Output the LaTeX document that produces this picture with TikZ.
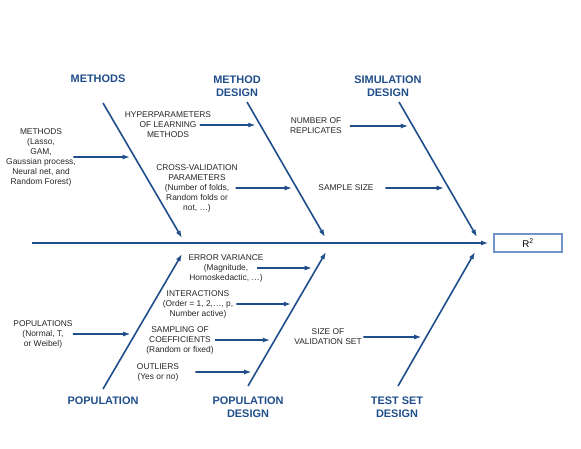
\documentclass[tikz,border=0pt]{standalone}
\usepackage{fontspec}
\setmainfont{Liberation Sans}
\usetikzlibrary{arrows.meta}
\definecolor{fishblue}{HTML}{1F4E8A}
\definecolor{boxblue}{HTML}{6F95CC}

\begin{document}
\begin{tikzpicture}[x=0.75pt,y=-0.75pt,
  head/.style={text=fishblue,font=\bfseries\fontsize{8.2}{10}\selectfont,align=center,inner sep=1pt},
  cause/.style={text=black!85,font=\fontsize{6.3}{7.5}\selectfont,align=center,inner sep=1pt},
  bone/.style={draw=fishblue,line width=1.2pt,-{Latex[length=5.5pt,width=3.8pt]}},
  arr/.style={bone,shorten >=3.5pt}]
  \useasboundingbox (0,0) rectangle (581,449);

  % headings of the six bones
  \node[head] (methods)    at (98,79)   {METHODS};
  \node[head] (mdesign)    at (237,86)  {METHOD\\DESIGN};
  \node[head] (sdesign)    at (388,86)  {SIMULATION\\DESIGN};
  \node[head] (population) at (103,401) {POPULATION};
  \node[head] (pdesign)    at (248,407) {POPULATION\\DESIGN};
  \node[head] (tdesign)    at (397,407) {TEST SET\\DESIGN};

  % bones and spine
  \coordinate (m-a)  at (103,103); \coordinate (m-b)  at (182,238);
  \coordinate (md-a) at (247,102); \coordinate (md-b) at (325,237);
  \coordinate (sd-a) at (399,102); \coordinate (sd-b) at (477,237);
  \coordinate (p-a)  at (103,389); \coordinate (p-b)  at (182,254);
  \coordinate (pd-a) at (248,386); \coordinate (pd-b) at (326,252);
  \coordinate (t-a)  at (398,386); \coordinate (t-b)  at (475,252);
  \foreach \s in {m,md,sd,p,pd,t}
    \draw[bone] (\s-a) -- (\s-b);

  \node[draw=boxblue,line width=1.4pt,minimum width=51pt,minimum height=13pt,
        inner sep=0pt,font=\fontsize{7.3}{9}\selectfont] (r2) at (528,243) {R\textsuperscript{2}};
  \coordinate (tail) at (32,243);
  \draw[arr,line width=1.5pt] (tail) -- (r2.west);

  % causes
  \node[cause] (meth)   at (41,157)  {METHODS\\(Lasso,\\GAM,\\Gaussian process,\\Neural net, and\\Random Forest)};
  \node[cause] (hyper)  at (168,125) {HYPERPARAMETERS\\OF LEARNING\\METHODS};
  \node[cause] (cv)     at (197,188) {CROSS-VALIDATION\\PARAMETERS\\(Number of folds,\\Random folds or\\not, \dots)};
  \node[cause] (nrep)   at (316,126) {NUMBER OF\\REPLICATES};
  \node[cause] (ssize)  at (346,188) {SAMPLE SIZE};
  \node[cause] (pops)   at (43,334)  {POPULATIONS\\(Normal, T,\\or Weibel)};
  \node[cause] (errvar) at (226,268) {ERROR VARIANCE\\(Magnitude,\\Homoskedactic, \dots)};
  \node[cause] (inter)  at (198,304) {INTERACTIONS\\(Order = 1, 2,\dots, p,\\Number active)};
  \node[cause] (coef)   at (180,340) {SAMPLING OF\\COEFFICIENTS\\(Random or fixed)};
  \node[cause] (outl)   at (158,372) {OUTLIERS\\(Yes or no)};
  \node[cause] (vsize)  at (328,337) {SIZE OF\\VALIDATION SET};

  \draw[arr] ([xshift=-3pt]meth.east)    -- (intersection of meth.west--meth.east and m-a--m-b);
  \draw[arr] ([xshift=-9.6pt]hyper.east) -- (intersection of hyper.west--hyper.east and md-a--md-b);
  \draw[arr] ([xshift=-2.7pt]cv.east)    -- (intersection of cv.west--cv.east and md-a--md-b);
  \draw[arr] ([xshift=4.9pt]nrep.east)   -- (intersection of nrep.west--nrep.east and sd-a--sd-b);
  \draw[arr] ([xshift=7.6pt]ssize.east)  -- (intersection of ssize.west--ssize.east and sd-a--sd-b);
  \draw[arr] ([xshift=-1pt]pops.east)    -- (intersection of pops.west--pops.east and p-a--p-b);
  \draw[arr] ([xshift=-6pt]errvar.east)  -- (intersection of errvar.west--errvar.east and pd-a--pd-b);
  \draw[arr] ([xshift=1.3pt]inter.east)  -- (intersection of inter.west--inter.east and pd-a--pd-b);
  \draw[arr] (coef.east)                 -- (intersection of coef.west--coef.east and pd-a--pd-b);
  \draw[arr] ([xshift=11pt]outl.east)    -- (intersection of outl.west--outl.east and pd-a--pd-b);
  \draw[arr] (vsize.east)                -- (intersection of vsize.west--vsize.east and t-a--t-b);
\end{tikzpicture}
\end{document}
